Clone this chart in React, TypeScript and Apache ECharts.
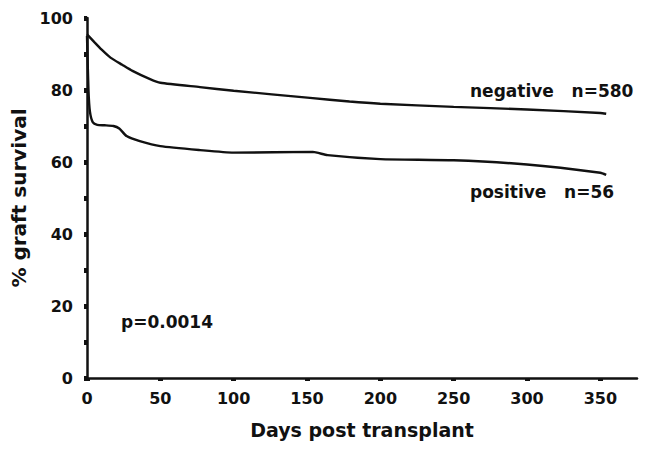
import React, { useEffect, useRef } from "react";
import * as echarts from "echarts";

const negativeDays = [0, 5, 10, 16, 24, 31, 43, 50, 77, 100, 152, 179, 200, 250, 300, 350, 354];
const negativeValues = [95.5, 93.3, 91.2, 89.0, 87.0, 85.3, 83.0, 82.0, 80.8, 79.8, 77.8, 76.8, 76.2, 75.3, 74.6, 73.6, 73.4];

const positiveDays = [0, 1, 2, 4, 7, 12, 18, 22, 27, 36, 50, 77, 100, 154, 164, 200, 250, 300, 350, 354];
const positiveValues = [95, 80, 74, 71, 70.3, 70.2, 70.0, 69.3, 67.2, 65.8, 64.4, 63.3, 62.6, 62.8, 61.9, 60.8, 60.5, 59.3, 57.0, 56.4];

const xTicks = [0, 50, 100, 150, 200, 250, 300, 350];
const yTicks = [0, 10, 20, 30, 40, 50, 60, 70, 80, 90, 100];
const yLabels = [0, 20, 40, 60, 80, 100];

const FONT = "DejaVu Sans";

export default function App() {
  const ref = useRef<HTMLDivElement>(null);
  useEffect(() => {
    const chart = echarts.init(ref.current!, null, { renderer: "svg" });
    const pair = (xs: number[], ys: number[]) => xs.map((x, i) => [x, ys[i]]);
    chart.setOption({
      animation: false,
      backgroundColor: "#fff",
      grid: { left: 87, right: 12, top: 18, bottom: 76 },
      xAxis: {
        type: "value",
        min: 0,
        max: 375,
        interval: 50,
        name: "Days post transplant",
        nameLocation: "middle",
        nameGap: 42,
        nameTextStyle: { fontFamily: FONT, fontWeight: "bold", fontSize: 19, color: "#111" },
        splitLine: { show: false },
        axisLine: { lineStyle: { color: "#111", width: 2.5 } },
        axisTick: { show: true, customValues: xTicks, length: 3, lineStyle: { color: "#111", width: 5 } },
        axisLabel: {
          customValues: xTicks,
          margin: 12,
          fontFamily: FONT,
          fontWeight: "bold",
          fontSize: 16,
          color: "#111",
        },
      },
      yAxis: {
        type: "value",
        min: 0,
        max: 100,
        interval: 10,
        name: "% graft survival",
        nameLocation: "middle",
        nameRotate: 90,
        nameGap: 55,
        nameTextStyle: { fontFamily: FONT, fontWeight: "bold", fontSize: 20, color: "#111" },
        splitLine: { show: false },
        axisLine: { lineStyle: { color: "#111", width: 2.5 } },
        axisTick: { show: true, customValues: yTicks, length: 3, lineStyle: { color: "#111", width: 5 } },
        axisLabel: {
          customValues: yLabels,
          margin: 14,
          fontFamily: FONT,
          fontWeight: "bold",
          fontSize: 16,
          color: "#111",
        },
      },
      series: [
        {
          name: "negative",
          type: "line",
          data: pair(negativeDays, negativeValues),
          smooth: 0.2,
          showSymbol: false,
          lineStyle: { color: "#111", width: 2.4 },
        },
        {
          name: "positive",
          type: "line",
          data: pair(positiveDays, positiveValues),
          smooth: 0.2,
          showSymbol: false,
          lineStyle: { color: "#111", width: 2.4 },
        },
      ],
      graphic: [
        {
          type: "text",
          left: 470,
          top: 82,
          style: { text: "negative   n=580", fontFamily: FONT, fontWeight: "bold", fontSize: 17, fill: "#111" },
        },
        {
          type: "text",
          left: 470,
          top: 183,
          style: { text: "positive   n=56", fontFamily: FONT, fontWeight: "bold", fontSize: 17, fill: "#111" },
        },
        {
          type: "text",
          left: 121,
          top: 313,
          style: { text: "p=0.0014", fontFamily: FONT, fontWeight: "bold", fontSize: 17, fill: "#111" },
        },
      ],
    });
    return () => chart.dispose();
  }, []);
  return (
    <div
      ref={ref}
      style={{ position: "fixed", left: 0, top: 0, width: 649, height: 454 }}
    />
  );
}
